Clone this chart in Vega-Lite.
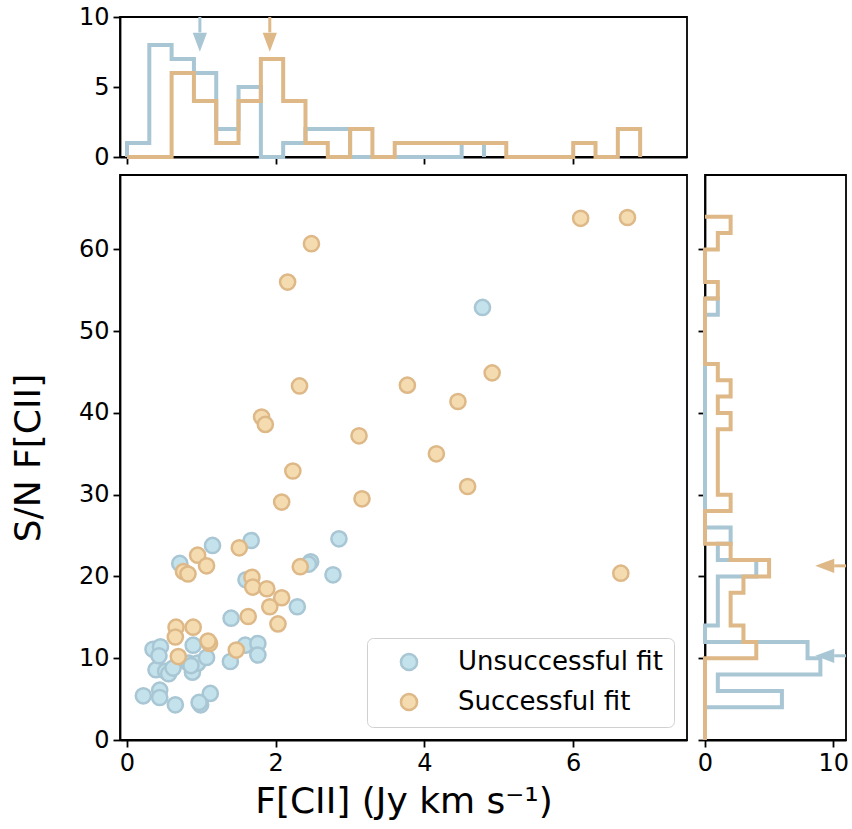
{
  "$schema": "https://vega.github.io/schema/vega-lite/v6.json",
  "padding": {"left": 9, "top": 4, "right": 4, "bottom": 4},
  "config": {
    "font": "DejaVu Sans",
    "view": {"stroke": "black", "strokeWidth": 1.8},
    "axis": {"grid": false, "domainColor": "black", "domainWidth": 1.8, "tickColor": "black", "tickWidth": 1.8, "tickSize": 7, "labelColor": "black", "labelFont": "DejaVu Sans", "labelFontSize": 24, "labelPadding": 4, "labelFlush": false, "labelOverlap": false, "titleColor": "black", "titleFont": "DejaVu Sans", "titleFontSize": 36, "titleFontWeight": "normal"},
    "axisX": {"titlePadding": 9},
    "axisY": {"titlePadding": 31}
  },
  "resolve": {
    "scale": {"color": "independent", "fill": "independent", "stroke": "independent"},
    "legend": {"color": "independent", "fill": "independent", "stroke": "independent"}
  },
  "datasets": {
    "points": [
      {"group": "Unsuccessful fit", "F": 0.22, "SN": 5.4},
      {"group": "Unsuccessful fit", "F": 0.44, "SN": 6.1},
      {"group": "Unsuccessful fit", "F": 0.44, "SN": 5.2},
      {"group": "Unsuccessful fit", "F": 0.65, "SN": 4.3},
      {"group": "Unsuccessful fit", "F": 1.12, "SN": 5.7},
      {"group": "Unsuccessful fit", "F": 0.99, "SN": 4.3},
      {"group": "Unsuccessful fit", "F": 0.97, "SN": 4.6},
      {"group": "Unsuccessful fit", "F": 0.39, "SN": 8.6},
      {"group": "Unsuccessful fit", "F": 0.52, "SN": 8.4},
      {"group": "Unsuccessful fit", "F": 0.56, "SN": 8.1},
      {"group": "Unsuccessful fit", "F": 0.88, "SN": 8.3},
      {"group": "Unsuccessful fit", "F": 0.83, "SN": 9.4},
      {"group": "Unsuccessful fit", "F": 0.95, "SN": 9.4},
      {"group": "Unsuccessful fit", "F": 1.39, "SN": 9.6},
      {"group": "Unsuccessful fit", "F": 0.62, "SN": 8.8},
      {"group": "Unsuccessful fit", "F": 0.86, "SN": 9.1},
      {"group": "Unsuccessful fit", "F": 0.35, "SN": 11.1},
      {"group": "Unsuccessful fit", "F": 0.45, "SN": 11.4},
      {"group": "Unsuccessful fit", "F": 0.43, "SN": 10.3},
      {"group": "Unsuccessful fit", "F": 0.89, "SN": 11.6},
      {"group": "Unsuccessful fit", "F": 1.07, "SN": 10.1},
      {"group": "Unsuccessful fit", "F": 1.59, "SN": 11.6},
      {"group": "Unsuccessful fit", "F": 1.76, "SN": 11.8},
      {"group": "Unsuccessful fit", "F": 1.76, "SN": 10.4},
      {"group": "Unsuccessful fit", "F": 1.40, "SN": 14.9},
      {"group": "Unsuccessful fit", "F": 2.29, "SN": 16.3},
      {"group": "Unsuccessful fit", "F": 1.60, "SN": 19.6},
      {"group": "Unsuccessful fit", "F": 0.71, "SN": 21.6},
      {"group": "Unsuccessful fit", "F": 2.47, "SN": 21.8},
      {"group": "Unsuccessful fit", "F": 2.44, "SN": 21.5},
      {"group": "Unsuccessful fit", "F": 2.77, "SN": 20.2},
      {"group": "Unsuccessful fit", "F": 1.15, "SN": 23.8},
      {"group": "Unsuccessful fit", "F": 1.67, "SN": 24.4},
      {"group": "Unsuccessful fit", "F": 2.85, "SN": 24.6},
      {"group": "Unsuccessful fit", "F": 4.78, "SN": 52.9},
      {"group": "Successful fit", "F": 6.10, "SN": 63.8},
      {"group": "Successful fit", "F": 6.73, "SN": 63.9},
      {"group": "Successful fit", "F": 6.64, "SN": 20.4},
      {"group": "Successful fit", "F": 2.48, "SN": 60.7},
      {"group": "Successful fit", "F": 2.16, "SN": 56.0},
      {"group": "Successful fit", "F": 4.91, "SN": 44.9},
      {"group": "Successful fit", "F": 2.32, "SN": 43.3},
      {"group": "Successful fit", "F": 3.77, "SN": 43.4},
      {"group": "Successful fit", "F": 4.45, "SN": 41.4},
      {"group": "Successful fit", "F": 1.81, "SN": 39.5},
      {"group": "Successful fit", "F": 1.86, "SN": 38.6},
      {"group": "Successful fit", "F": 3.12, "SN": 37.2},
      {"group": "Successful fit", "F": 4.16, "SN": 35.0},
      {"group": "Successful fit", "F": 2.23, "SN": 32.9},
      {"group": "Successful fit", "F": 4.58, "SN": 31.0},
      {"group": "Successful fit", "F": 2.08, "SN": 29.1},
      {"group": "Successful fit", "F": 3.16, "SN": 29.5},
      {"group": "Successful fit", "F": 1.51, "SN": 23.5},
      {"group": "Successful fit", "F": 0.95, "SN": 22.6},
      {"group": "Successful fit", "F": 1.07, "SN": 21.3},
      {"group": "Successful fit", "F": 0.76, "SN": 20.6},
      {"group": "Successful fit", "F": 0.82, "SN": 20.3},
      {"group": "Successful fit", "F": 2.33, "SN": 21.2},
      {"group": "Successful fit", "F": 1.68, "SN": 19.9},
      {"group": "Successful fit", "F": 1.69, "SN": 18.7},
      {"group": "Successful fit", "F": 1.88, "SN": 18.5},
      {"group": "Successful fit", "F": 2.08, "SN": 17.4},
      {"group": "Successful fit", "F": 1.92, "SN": 16.3},
      {"group": "Successful fit", "F": 2.03, "SN": 14.2},
      {"group": "Successful fit", "F": 1.63, "SN": 15.1},
      {"group": "Successful fit", "F": 1.47, "SN": 11.0},
      {"group": "Successful fit", "F": 0.66, "SN": 13.8},
      {"group": "Successful fit", "F": 0.89, "SN": 13.8},
      {"group": "Successful fit", "F": 0.65, "SN": 12.6},
      {"group": "Successful fit", "F": 1.11, "SN": 11.8},
      {"group": "Successful fit", "F": 1.09, "SN": 12.1},
      {"group": "Successful fit", "F": 0.69, "SN": 10.2}
    ],
    "fhist": [
      {"group": "Unsuccessful fit", "ord": 0, "edge": 0, "count": 0},
      {"group": "Unsuccessful fit", "ord": 1, "edge": 0, "count": 1},
      {"group": "Unsuccessful fit", "ord": 2, "edge": 0.3, "count": 8},
      {"group": "Unsuccessful fit", "ord": 3, "edge": 0.6, "count": 7},
      {"group": "Unsuccessful fit", "ord": 4, "edge": 0.9, "count": 6},
      {"group": "Unsuccessful fit", "ord": 5, "edge": 1.2, "count": 2},
      {"group": "Unsuccessful fit", "ord": 6, "edge": 1.5, "count": 5},
      {"group": "Unsuccessful fit", "ord": 7, "edge": 1.8, "count": 0},
      {"group": "Unsuccessful fit", "ord": 8, "edge": 2.1, "count": 1},
      {"group": "Unsuccessful fit", "ord": 9, "edge": 2.4, "count": 2},
      {"group": "Unsuccessful fit", "ord": 10, "edge": 2.7, "count": 2},
      {"group": "Unsuccessful fit", "ord": 11, "edge": 3.0, "count": 0},
      {"group": "Unsuccessful fit", "ord": 12, "edge": 3.3, "count": 0},
      {"group": "Unsuccessful fit", "ord": 13, "edge": 3.6, "count": 0},
      {"group": "Unsuccessful fit", "ord": 14, "edge": 3.9, "count": 0},
      {"group": "Unsuccessful fit", "ord": 15, "edge": 4.2, "count": 0},
      {"group": "Unsuccessful fit", "ord": 16, "edge": 4.5, "count": 1},
      {"group": "Unsuccessful fit", "ord": 17, "edge": 4.8, "count": 0},
      {"group": "Successful fit", "ord": 0, "edge": 0, "count": 0},
      {"group": "Successful fit", "ord": 1, "edge": 0, "count": 0},
      {"group": "Successful fit", "ord": 2, "edge": 0.3, "count": 0},
      {"group": "Successful fit", "ord": 3, "edge": 0.6, "count": 6},
      {"group": "Successful fit", "ord": 4, "edge": 0.9, "count": 4},
      {"group": "Successful fit", "ord": 5, "edge": 1.2, "count": 1},
      {"group": "Successful fit", "ord": 6, "edge": 1.5, "count": 4},
      {"group": "Successful fit", "ord": 7, "edge": 1.8, "count": 7},
      {"group": "Successful fit", "ord": 8, "edge": 2.1, "count": 4},
      {"group": "Successful fit", "ord": 9, "edge": 2.4, "count": 1},
      {"group": "Successful fit", "ord": 10, "edge": 2.7, "count": 0},
      {"group": "Successful fit", "ord": 11, "edge": 3.0, "count": 2},
      {"group": "Successful fit", "ord": 12, "edge": 3.3, "count": 0},
      {"group": "Successful fit", "ord": 13, "edge": 3.6, "count": 1},
      {"group": "Successful fit", "ord": 14, "edge": 3.9, "count": 1},
      {"group": "Successful fit", "ord": 15, "edge": 4.2, "count": 1},
      {"group": "Successful fit", "ord": 16, "edge": 4.5, "count": 1},
      {"group": "Successful fit", "ord": 17, "edge": 4.8, "count": 1},
      {"group": "Successful fit", "ord": 18, "edge": 5.1, "count": 0},
      {"group": "Successful fit", "ord": 19, "edge": 5.4, "count": 0},
      {"group": "Successful fit", "ord": 20, "edge": 5.7, "count": 0},
      {"group": "Successful fit", "ord": 21, "edge": 6.0, "count": 1},
      {"group": "Successful fit", "ord": 22, "edge": 6.3, "count": 0},
      {"group": "Successful fit", "ord": 23, "edge": 6.6, "count": 2},
      {"group": "Successful fit", "ord": 24, "edge": 6.9, "count": 0}
    ],
    "snhist": [
      {"group": "Unsuccessful fit", "ord": 0, "edge": 4, "count": 0},
      {"group": "Unsuccessful fit", "ord": 1, "edge": 4, "count": 6},
      {"group": "Unsuccessful fit", "ord": 2, "edge": 6, "count": 1},
      {"group": "Unsuccessful fit", "ord": 3, "edge": 8, "count": 9},
      {"group": "Unsuccessful fit", "ord": 4, "edge": 10, "count": 8},
      {"group": "Unsuccessful fit", "ord": 5, "edge": 12, "count": 0},
      {"group": "Unsuccessful fit", "ord": 6, "edge": 14, "count": 1},
      {"group": "Unsuccessful fit", "ord": 7, "edge": 16, "count": 1},
      {"group": "Unsuccessful fit", "ord": 8, "edge": 18, "count": 1},
      {"group": "Unsuccessful fit", "ord": 9, "edge": 20, "count": 4},
      {"group": "Unsuccessful fit", "ord": 10, "edge": 22, "count": 1},
      {"group": "Unsuccessful fit", "ord": 11, "edge": 24, "count": 2},
      {"group": "Unsuccessful fit", "ord": 12, "edge": 26, "count": 0},
      {"group": "Unsuccessful fit", "ord": 13, "edge": 28, "count": 0},
      {"group": "Unsuccessful fit", "ord": 14, "edge": 30, "count": 0},
      {"group": "Unsuccessful fit", "ord": 15, "edge": 32, "count": 0},
      {"group": "Unsuccessful fit", "ord": 16, "edge": 34, "count": 0},
      {"group": "Unsuccessful fit", "ord": 17, "edge": 36, "count": 0},
      {"group": "Unsuccessful fit", "ord": 18, "edge": 38, "count": 0},
      {"group": "Unsuccessful fit", "ord": 19, "edge": 40, "count": 0},
      {"group": "Unsuccessful fit", "ord": 20, "edge": 42, "count": 0},
      {"group": "Unsuccessful fit", "ord": 21, "edge": 44, "count": 0},
      {"group": "Unsuccessful fit", "ord": 22, "edge": 46, "count": 0},
      {"group": "Unsuccessful fit", "ord": 23, "edge": 48, "count": 0},
      {"group": "Unsuccessful fit", "ord": 24, "edge": 50, "count": 0},
      {"group": "Unsuccessful fit", "ord": 25, "edge": 52, "count": 1},
      {"group": "Unsuccessful fit", "ord": 26, "edge": 54, "count": 0},
      {"group": "Successful fit", "ord": 0, "edge": 0, "count": 0},
      {"group": "Successful fit", "ord": 1, "edge": 0, "count": 0},
      {"group": "Successful fit", "ord": 2, "edge": 2, "count": 0},
      {"group": "Successful fit", "ord": 3, "edge": 4, "count": 0},
      {"group": "Successful fit", "ord": 4, "edge": 6, "count": 0},
      {"group": "Successful fit", "ord": 5, "edge": 8, "count": 0},
      {"group": "Successful fit", "ord": 6, "edge": 10, "count": 4},
      {"group": "Successful fit", "ord": 7, "edge": 12, "count": 3},
      {"group": "Successful fit", "ord": 8, "edge": 14, "count": 2},
      {"group": "Successful fit", "ord": 9, "edge": 16, "count": 2},
      {"group": "Successful fit", "ord": 10, "edge": 18, "count": 3},
      {"group": "Successful fit", "ord": 11, "edge": 20, "count": 5},
      {"group": "Successful fit", "ord": 12, "edge": 22, "count": 2},
      {"group": "Successful fit", "ord": 13, "edge": 24, "count": 0},
      {"group": "Successful fit", "ord": 14, "edge": 26, "count": 0},
      {"group": "Successful fit", "ord": 15, "edge": 28, "count": 2},
      {"group": "Successful fit", "ord": 16, "edge": 30, "count": 1},
      {"group": "Successful fit", "ord": 17, "edge": 32, "count": 1},
      {"group": "Successful fit", "ord": 18, "edge": 34, "count": 1},
      {"group": "Successful fit", "ord": 19, "edge": 36, "count": 1},
      {"group": "Successful fit", "ord": 20, "edge": 38, "count": 2},
      {"group": "Successful fit", "ord": 21, "edge": 40, "count": 1},
      {"group": "Successful fit", "ord": 22, "edge": 42, "count": 2},
      {"group": "Successful fit", "ord": 23, "edge": 44, "count": 1},
      {"group": "Successful fit", "ord": 24, "edge": 46, "count": 0},
      {"group": "Successful fit", "ord": 25, "edge": 48, "count": 0},
      {"group": "Successful fit", "ord": 26, "edge": 50, "count": 0},
      {"group": "Successful fit", "ord": 27, "edge": 52, "count": 0},
      {"group": "Successful fit", "ord": 28, "edge": 54, "count": 1},
      {"group": "Successful fit", "ord": 29, "edge": 56, "count": 0},
      {"group": "Successful fit", "ord": 30, "edge": 58, "count": 0},
      {"group": "Successful fit", "ord": 31, "edge": 60, "count": 1},
      {"group": "Successful fit", "ord": 32, "edge": 62, "count": 2},
      {"group": "Successful fit", "ord": 33, "edge": 64, "count": 0}
    ],
    "arrows": [
      {"group": "Unsuccessful fit", "F": 0.98, "SN": 10.3},
      {"group": "Successful fit", "F": 1.92, "SN": 21.3}
    ]
  },
  "columns": 2,
  "spacing": {"row": 4, "column": 8},
  "concat": [
    {
      "width": 567,
      "height": 140,
      "encoding": {
        "x": {"type": "quantitative", "scale": {"domain": [-0.094, 7.53], "nice": false, "zero": false}, "axis": {"values": [0, 2, 4, 6], "labels": false, "title": null}},
        "y": {"type": "quantitative", "scale": {"domain": [0, 10], "nice": false}, "axis": {"values": [0, 5, 10], "title": null}}
      },
      "layer": [
        {
          "data": {"name": "fhist"},
          "transform": [{"filter": "datum.group === 'Unsuccessful fit'"}],
          "mark": {"type": "line", "interpolate": "step-after", "strokeWidth": 4, "color": "#a8c6d3"},
          "encoding": {
            "x": {"field": "edge", "type": "quantitative"},
            "y": {"field": "count", "type": "quantitative"},
            "order": {"field": "ord", "type": "quantitative"}
          }
        },
        {
          "data": {"name": "fhist"},
          "transform": [{"filter": "datum.group === 'Successful fit'"}],
          "mark": {"type": "line", "interpolate": "step-after", "strokeWidth": 4, "color": "#deb887"},
          "encoding": {
            "x": {"field": "edge", "type": "quantitative"},
            "y": {"field": "count", "type": "quantitative"},
            "order": {"field": "ord", "type": "quantitative"}
          }
        },
        {
          "data": {"name": "arrows"},
          "mark": {"type": "rule", "strokeWidth": 3},
          "encoding": {
            "x": {"field": "F", "type": "quantitative"},
            "y": {"datum": 10},
            "y2": {"datum": 8.9},
            "color": {"field": "group", "type": "nominal", "scale": {"domain": ["Unsuccessful fit", "Successful fit"], "range": ["#a8c6d3", "#deb887"]}, "legend": null}
          }
        },
        {
          "data": {"name": "arrows"},
          "mark": {"type": "point", "shape": "M-0.75,-1L0.75,-1L0,1Z", "filled": true, "size": 361, "opacity": 1},
          "encoding": {
            "x": {"field": "F", "type": "quantitative"},
            "y": {"datum": 8.2},
            "color": {"field": "group", "type": "nominal", "legend": null}
          }
        }
      ]
    },
    {
      "width": 141,
      "height": 140,
      "view": {"stroke": null},
      "data": {"values": []},
      "mark": "point",
      "encoding": {}
    },
    {
      "width": 567,
      "height": 565,
      "data": {"name": "points"},
      "mark": {"type": "point", "filled": true, "size": 230, "strokeWidth": 2.5, "opacity": 1},
      "encoding": {
        "x": {"field": "F", "type": "quantitative", "scale": {"domain": [-0.094, 7.53], "nice": false, "zero": false}, "axis": {"values": [0, 2, 4, 6], "title": "F[CII] (Jy km s⁻¹)"}},
        "y": {"field": "SN", "type": "quantitative", "scale": {"domain": [0, 69.1], "nice": false}, "axis": {"values": [0, 10, 20, 30, 40, 50, 60], "title": "S/N F[CII]"}},
        "fill": {"field": "group", "type": "nominal", "scale": {"domain": ["Unsuccessful fit", "Successful fit"], "range": ["#c4e2ec", "#f4dcb0"]},
          "legend": {"title": null, "orient": "bottom-right", "offset": 13, "padding": 11, "strokeColor": "#d0d0d0", "cornerRadius": 6, "fillColor": "white", "labelFontSize": 26, "labelLimit": 400, "labelColor": "black", "labelFont": "DejaVu Sans", "symbolType": "circle", "symbolSize": 260, "symbolStrokeWidth": 2.5, "symbolOffset": 18, "labelOffset": 36, "rowPadding": 12}},
        "stroke": {"field": "group", "type": "nominal", "scale": {"domain": ["Unsuccessful fit", "Successful fit"], "range": ["#a8c6d3", "#deb887"]},
          "legend": {"title": null, "orient": "bottom-right", "offset": 13, "padding": 11, "strokeColor": "#d0d0d0", "cornerRadius": 6, "fillColor": "white", "labelFontSize": 26, "labelLimit": 400, "labelColor": "black", "labelFont": "DejaVu Sans", "symbolType": "circle", "symbolSize": 260, "symbolStrokeWidth": 2.5, "symbolOffset": 18, "labelOffset": 36, "rowPadding": 12}}
      }
    },
    {
      "width": 141,
      "height": 565,
      "encoding": {
        "x": {"type": "quantitative", "scale": {"domain": [0, 11], "nice": false}, "axis": {"values": [0, 10], "title": null}},
        "y": {"type": "quantitative", "scale": {"domain": [0, 69.1], "nice": false}, "axis": {"values": [0, 10, 20, 30, 40, 50, 60], "labels": false, "title": null}}
      },
      "layer": [
        {
          "data": {"name": "snhist"},
          "transform": [{"filter": "datum.group === 'Unsuccessful fit'"}],
          "mark": {"type": "line", "interpolate": "step-before", "strokeWidth": 4, "color": "#a8c6d3"},
          "encoding": {
            "x": {"field": "count", "type": "quantitative"},
            "y": {"field": "edge", "type": "quantitative"},
            "order": {"field": "ord", "type": "quantitative"}
          }
        },
        {
          "data": {"name": "snhist"},
          "transform": [{"filter": "datum.group === 'Successful fit'"}],
          "mark": {"type": "line", "interpolate": "step-before", "strokeWidth": 4, "color": "#deb887"},
          "encoding": {
            "x": {"field": "count", "type": "quantitative"},
            "y": {"field": "edge", "type": "quantitative"},
            "order": {"field": "ord", "type": "quantitative"}
          }
        },
        {
          "data": {"name": "arrows"},
          "mark": {"type": "rule", "strokeWidth": 3},
          "encoding": {
            "y": {"field": "SN", "type": "quantitative"},
            "x": {"datum": 11},
            "x2": {"datum": 10.08},
            "color": {"field": "group", "type": "nominal", "scale": {"domain": ["Unsuccessful fit", "Successful fit"], "range": ["#a8c6d3", "#deb887"]}, "legend": null}
          }
        },
        {
          "data": {"name": "arrows"},
          "mark": {"type": "point", "shape": "M1,-0.75L1,0.75L-1,0Z", "filled": true, "size": 361, "opacity": 1},
          "encoding": {
            "y": {"field": "SN", "type": "quantitative"},
            "x": {"datum": 9.34},
            "color": {"field": "group", "type": "nominal", "legend": null}
          }
        }
      ]
    }
  ]
}
